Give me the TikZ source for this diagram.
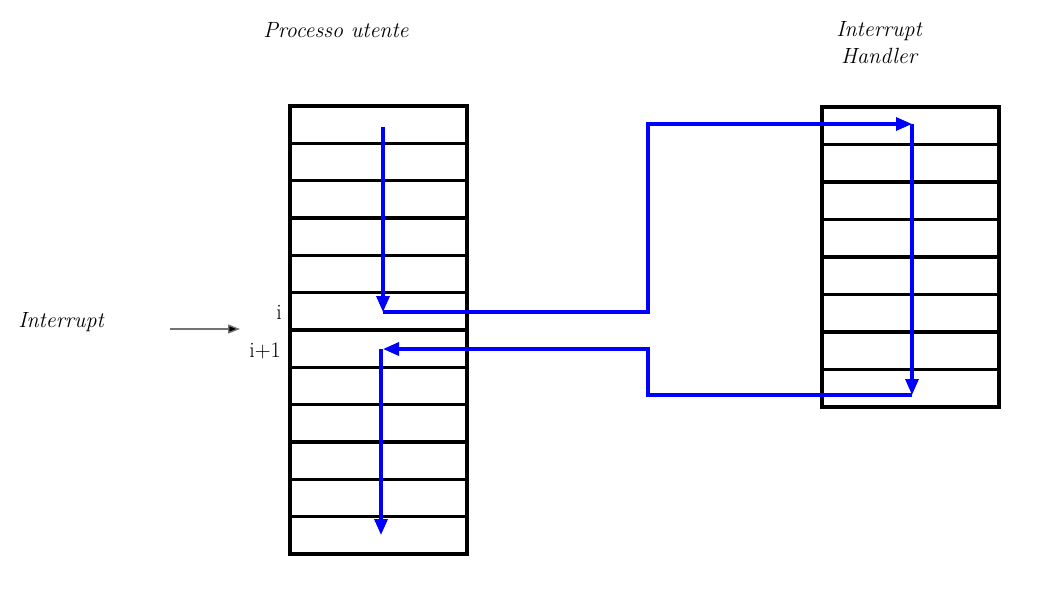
\documentclass[tikz,border=0pt]{standalone}
\usetikzlibrary{arrows.meta}
\begin{document}
\begin{tikzpicture}[x=1pt,y=-1pt,
  cell/.style={draw=black,line width=3.4pt,minimum width=177pt,inner sep=0pt,outer sep=0pt},
  flow/.style={draw=blue,line width=3.3pt,line join=miter},
  flowtip/.style={flow,-{Triangle[length=16pt,width=13pt]}},
  lbl/.style={font=\fontsize{22}{27}\selectfont\itshape,align=center,inner sep=0pt},
  idx/.style={font=\fontsize{22}{27}\selectfont,inner sep=0pt}]
\useasboundingbox (0,0) rectangle (1045,589);

% user process: 12 instruction slots
\foreach \k in {1,...,12}
  \node[cell,minimum height=37.33pt] (L\k) at (378.5,{106+37.33*(\k-0.5)}) {};
% interrupt handler: 8 instruction slots
\foreach \k in {1,...,8}
  \node[cell,minimum height=37.5pt] (R\k) at (910.5,{107+37.5*(\k-0.5)}) {};

% titles and labels
\node[lbl] (tproc) at (336,30) {Processo utente};
\node[lbl] (thand) at (879,43) {Interrupt\\Handler};
\node[lbl] (tint) at (61,322) {Interrupt};
\node[idx,anchor=east] (li) at (282,312) {i};
\node[idx,anchor=east] (li1) at (281,351) {i+1};

% incoming interrupt signal
\coordinate (s0) at (170,329);
\coordinate (s1) at (240,329);
\draw[draw=black!55,line width=1.3pt,-{Triangle[length=12pt,width=9pt,fill=black]}] (s0) -- (s1);

% control flow
\coordinate (a0) at (383,127);
\coordinate (a1) at (383,312);
\coordinate (h0) at (912,124);
\coordinate (h1) at (912,395);
\coordinate (b0) at (383,349);
\coordinate (c0) at (381,349);
\coordinate (c1) at (381,535);

\draw[flowtip] (a0) -- (a1);
\draw[flowtip] (a1) -- (648,312) -- (648,124) -- (h0);
\draw[flowtip] (h0) -- (h1);
\draw[flowtip] (h1) -- (648,395) -- (648,349) -- (b0);
\draw[flowtip] (c0) -- (c1);
\end{tikzpicture}
\end{document}
